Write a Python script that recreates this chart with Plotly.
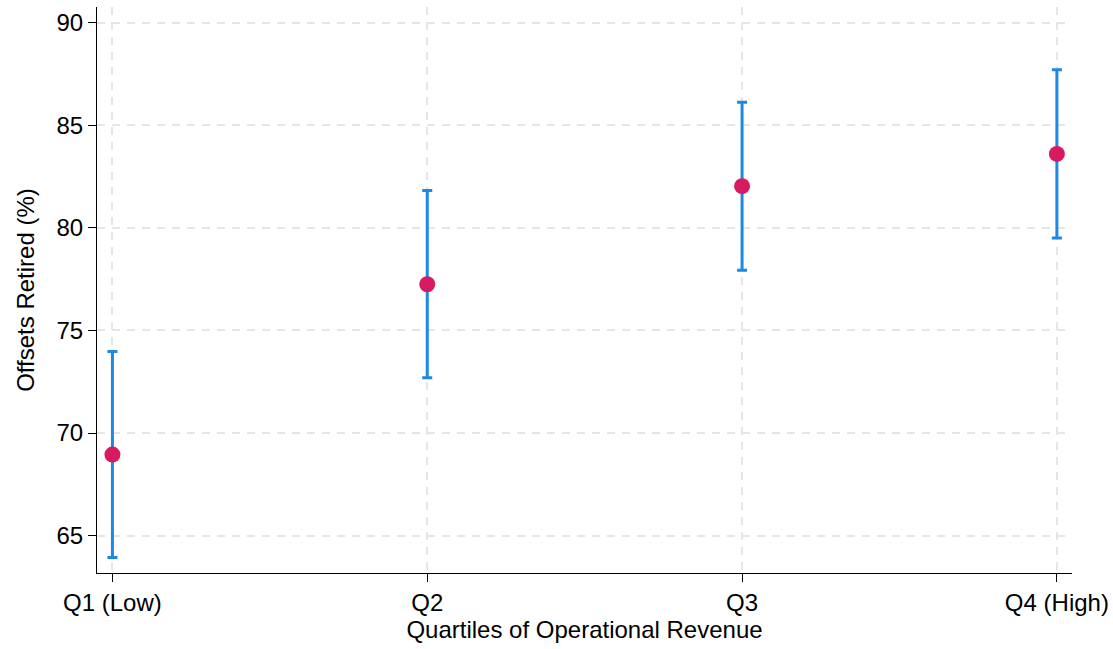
import plotly.graph_objects as go

categories = ["Q1 (Low)", "Q2", "Q3", "Q4 (High)"]
means = [68.95, 77.25, 82.03, 83.6]
lower = [63.94, 72.7, 77.93, 79.5]
upper = [73.97, 81.82, 86.12, 87.7]
y_ticks = [65, 70, 75, 80, 85, 90]

xpos = list(range(len(categories)))
err_plus = [u - m for u, m in zip(upper, means)]
err_minus = [m - l for m, l in zip(means, lower)]

fig = go.Figure()
fig.add_trace(go.Scatter(
    x=xpos, y=means, mode="markers",
    marker=dict(color="#D81B60", size=16, line=dict(width=0)),
    error_y=dict(type="data", symmetric=False, array=err_plus, arrayminus=err_minus,
                 color="#1E88E5", thickness=3, width=5),
    showlegend=False,
))

fam = "Arial, Liberation Sans, sans-serif"
tick_font = dict(family=fam, size=24, color="black")
title_font = dict(family=fam, size=24, color="black")
grid = dict(showgrid=True, gridcolor="#e6e6e6", gridwidth=1.5, griddash="8px,7px")

fig.update_layout(
    width=1113, height=649,
    margin=dict(l=97, r=41, t=7, b=76),
    plot_bgcolor="white", paper_bgcolor="white",
    font=tick_font,
    xaxis=dict(
        tickmode="array", tickvals=xpos, ticktext=categories, tickfont=tick_font,
        range=[-0.049, 3.048], showline=True, linecolor="black", linewidth=1.2,
        ticks="outside", ticklen=8, tickcolor="black", zeroline=False, automargin=False,
        title=dict(text="Quartiles of Operational Revenue", font=title_font, standoff=4),
        **grid,
    ),
    yaxis=dict(
        tickmode="array", tickvals=y_ticks, tickfont=tick_font,
        range=[63.18, 90.76], showline=True, linecolor="black", linewidth=1.2,
        ticks="outside", ticklen=8, tickcolor="black", zeroline=False, automargin=False,
        title=dict(text="Offsets Retired (%)", font=title_font, standoff=14),
        **grid,
    ),
)

fig.write_html("out.html")
